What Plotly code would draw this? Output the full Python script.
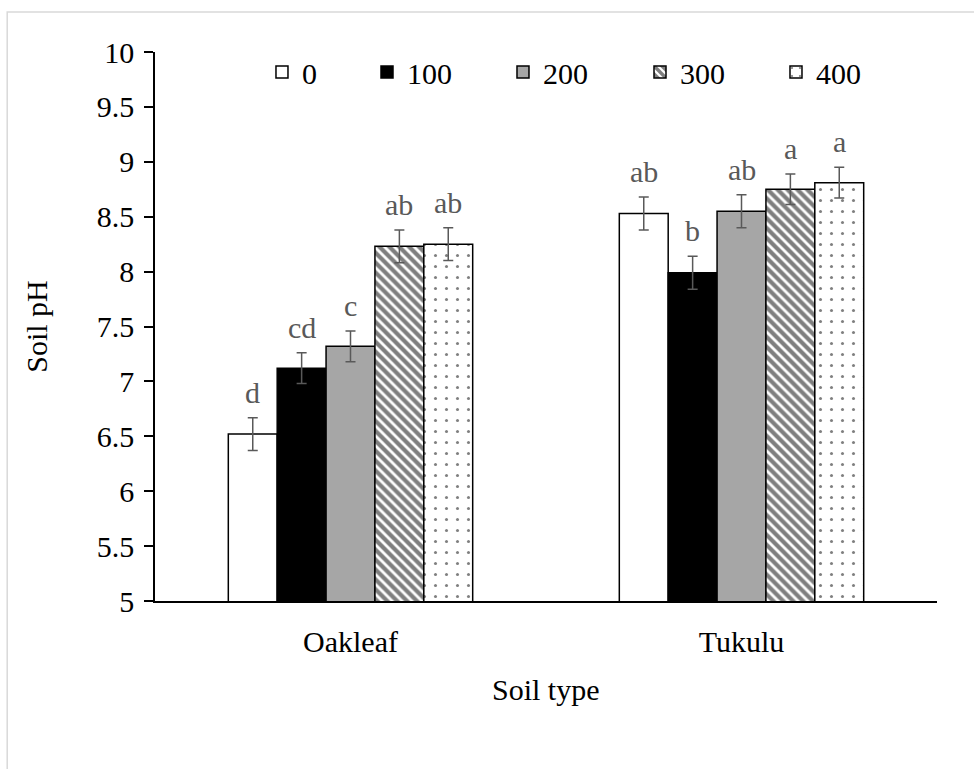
import plotly.graph_objects as go

# Soil pH by soil type and application rate
soil_types = ["Oakleaf", "Tukulu"]
rates = ["0", "100", "200", "300", "400"]

ph_0 = [6.52, 8.53]
ph_100 = [7.12, 7.99]
ph_200 = [7.32, 8.55]
ph_300 = [8.23, 8.75]
ph_400 = [8.25, 8.81]

se_0 = [0.15, 0.15]
se_100 = [0.14, 0.15]
se_200 = [0.14, 0.15]
se_300 = [0.15, 0.14]
se_400 = [0.15, 0.14]

letters_0 = ["d", "ab"]
letters_100 = ["cd", "b"]
letters_200 = ["c", "ab"]
letters_300 = ["ab", "a"]
letters_400 = ["ab", "a"]

values = [ph_0, ph_100, ph_200, ph_300, ph_400]
errors = [se_0, se_100, se_200, se_300, se_400]
letters = [letters_0, letters_100, letters_200, letters_300, letters_400]

FONT = "Liberation Serif"
FS = 30
GREY_TXT = "#595959"

fills = [
    dict(color="white"),
    dict(color="black"),
    dict(color="#a6a6a6"),
    dict(color="white", pattern=dict(shape="\\", fgcolor="black", bgcolor="white",
                                      size=7, solidity=0.6)),
    dict(color="white", pattern=dict(shape=".", fgcolor="black", bgcolor="white",
                                      size=11, solidity=0.06)),
]

group_frac = 0.625
bar_w = group_frac / len(rates)
cat_pos = list(range(len(soil_types)))

legend_names = ["legend", "legend2", "legend3", "legend4", "legend5"]
legend_x = [0.1368, 0.2711, 0.4450, 0.6202, 0.7941]

fig = go.Figure()
for j, name in enumerate(rates):
    xs = [c + (j - (len(rates) - 1) / 2) * bar_w for c in cat_pos]
    marker = dict(line=dict(color="black", width=1.5), **fills[j])
    fig.add_trace(go.Bar(
        x=xs, y=values[j], width=bar_w, name=name, marker=marker,
        error_y=dict(type="data", array=errors[j], visible=True,
                     color=GREY_TXT, thickness=1.5, width=5),
        legend=legend_names[j],
    ))
    for k, x in enumerate(xs):
        fig.add_annotation(
            x=x, y=values[j][k] + errors[j][k], text=letters[j][k],
            showarrow=False, yanchor="bottom", yshift=7,
            font=dict(family=FONT, size=FS, color=GREY_TXT),
        )

legend_common = dict(orientation="h", yanchor="middle", y=0.9636, xanchor="left",
                     bgcolor="rgba(0,0,0,0)", borderwidth=0,
                     font=dict(family=FONT, size=FS, color="black"))
layout_legends = {}
for name, lx in zip(legend_names, legend_x):
    layout_legends[name] = dict(x=lx, **legend_common)

fig.update_layout(
    width=974, height=769,
    margin=dict(l=155, r=37, t=52, b=168),
    paper_bgcolor="white", plot_bgcolor="white",
    barmode="overlay",
    font=dict(family=FONT, size=FS, color="black"),
    showlegend=True,
    **layout_legends,
)

fig.update_yaxes(
    range=[5, 10], dtick=0.5, tick0=5, showgrid=False, zeroline=False,
    showline=True, linecolor="black", linewidth=1.5,
    ticks="outside", ticklen=9, tickcolor="black", tickwidth=1.5,
    ticklabelstandoff=4,
    tickfont=dict(family=FONT, size=FS, color="black"),
    title=dict(text="Soil pH", font=dict(family=FONT, size=FS, color="black"), standoff=40),
)
fig.update_xaxes(
    range=[-0.5, 1.5], tickvals=cat_pos, ticktext=soil_types,
    showgrid=False, zeroline=False, showline=True, linecolor="black", linewidth=1.5,
    ticks="", ticklabelstandoff=13,
    tickfont=dict(family=FONT, size=FS, color="black"),
)

fig.add_annotation(
    text="Soil type", xref="paper", yref="paper", x=0.5, y=-0.162,
    showarrow=False, yanchor="middle",
    font=dict(family=FONT, size=FS, color="black"),
)

# light frame around the chart area
fig.add_shape(type="rect", xref="paper", yref="paper",
              x0=-0.189, x1=1.06, y0=-0.33, y1=1.0729,
              line=dict(color="#d9d9d9", width=1.5), layer="below")

fig.write_html("out.html")
